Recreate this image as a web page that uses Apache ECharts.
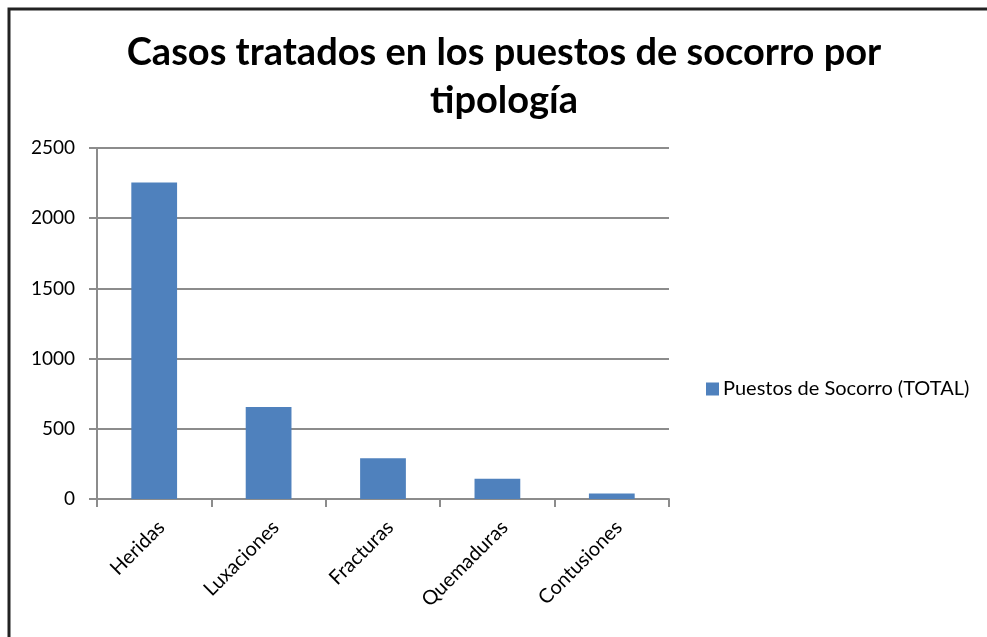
<!DOCTYPE html>
<html>
<head>
<meta charset="utf-8">
<script src="https://cdn.jsdelivr.net/npm/echarts@6/dist/echarts.min.js"></script>
<style>
  html, body { margin: 0; padding: 0; background: #fff; }
  #chart { width: 987px; height: 637px; }
</style>
</head>
<body>
<div id="chart"></div>
<script>
// datos
const categorias = ['Heridas', 'Luxaciones', 'Fracturas', 'Quemaduras', 'Contusiones'];
const puestosSocorro = [2255, 655, 290, 145, 40];
const nombreSerie = 'Puestos de Socorro (TOTAL)';
const titulo = 'Casos tratados en los puestos de socorro por\ntipología';

const fuente = 'Lato, "Open Sans", sans-serif';

let myChart = echarts.init(document.getElementById('chart'));
myChart.setOption({
  animation: false,
  backgroundColor: '#fff',
  title: {
    text: titulo,
    left: 499,
    top: 24,
    textAlign: 'center',
    textStyle: {
      fontFamily: fuente,
      fontSize: 38,
      fontWeight: 'bold',
      color: '#000',
      lineHeight: 48
    }
  },
  legend: {
    data: [nombreSerie],
    orient: 'vertical',
    left: 701,
    top: 374,
    itemWidth: 13,
    itemHeight: 13,
    itemGap: 6,
    icon: 'rect',
    textStyle: { fontFamily: fuente, fontSize: 20, color: '#000', padding: [0, 0, 0, -1] }
  },
  grid: {
    left: 97,
    right: 318,
    top: 148,
    bottom: 138,
    containLabel: false
  },
  xAxis: {
    type: 'category',
    data: categorias,
    axisLine: { lineStyle: { color: '#8c8c8c', width: 2 } },
    axisTick: { show: true, length: 8, lineStyle: { color: '#8c8c8c', width: 2 } },
    axisLabel: {
      rotate: 45,
      margin: 18,
      verticalAlign: 'top',
      fontFamily: fuente,
      fontSize: 20,
      color: '#000'
    }
  },
  yAxis: {
    type: 'value',
    min: 0,
    max: 2500,
    interval: 500,
    axisLine: { show: true, lineStyle: { color: '#8c8c8c', width: 2 } },
    axisTick: { show: true, length: 8, lineStyle: { color: '#8c8c8c', width: 2 } },
    axisLabel: {
      margin: 22,
      fontFamily: fuente,
      fontSize: 19,
      color: '#000',
      formatter: function (value) {
        return String(value);
      }
    },
    splitLine: { lineStyle: { color: '#8c8c8c', width: 2 } }
  },
  series: [
    {
      name: nombreSerie,
      type: 'bar',
      data: puestosSocorro,
      barWidth: '40%',
      itemStyle: { color: '#4F81BD' }
    }
  ],
  graphic: [
    {
      type: 'rect',
      shape: { x: 9, y: 9, width: 1100, height: 800 },
      style: { fill: 'none', stroke: '#222', lineWidth: 3 },
      z: 100
    }
  ]
});
window.onresize = function () {
  myChart.resize();
};
</script>
</body>
</html>
